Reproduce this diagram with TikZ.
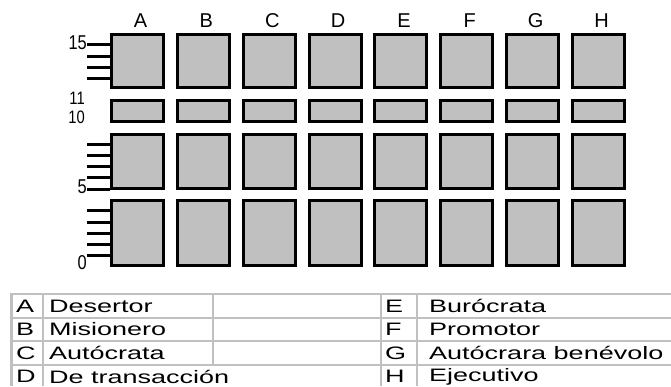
\documentclass[tikz,border=0pt]{standalone}
\usepackage{fontspec}
\setmainfont{Liberation Sans}
\newfontfamily\widefont[FakeStretch=1.5]{Liberation Sans}
\newfontfamily\narrowfont[FakeStretch=0.82]{Liberation Sans}
\definecolor{boxgray}{HTML}{C0C0C0}
\definecolor{linegray}{HTML}{C0C0C0}
\begin{document}
\begin{tikzpicture}[x=1pt,y=-1pt,
  cell/.style={draw=black, line width=3pt, fill=boxgray, inner sep=0pt, minimum width=52pt},
  tick/.style={line width=3pt, black},
  collab/.style={font=\fontsize{20}{20}\selectfont, inner sep=0pt},
  numlab/.style={font=\narrowfont\fontsize{20}{20}\selectfont, inner sep=0pt, anchor=east},
  tline/.style={draw=linegray, line width=2pt},
  ttext/.style={font=\widefont\fontsize{18}{18}\selectfont, inner sep=0pt, anchor=west}
]
\useasboundingbox (0,0) rectangle (671,386);
% boxes
\foreach \c [count=\i from 0] in {A,B,C,D,E,F,G,H}{
  \pgfmathsetmacro{\cx}{137.5+65.86*\i}
  \node[cell, minimum height=53pt] (r1\c) at (\cx,61) {};
  \node[cell, minimum height=21pt] (r2\c) at (\cx,111) {};
  \node[cell, minimum height=54pt] (r3\c) at (\cx,161.5) {};
  \node[cell, minimum height=65pt] (r4\c) at (\cx,233) {};
  \node[collab] (col\c) at (\cx+3,21) {\c};
}
% ticks
\foreach \y/\n in {44/t15,56/t14,67/t13,78/t12,144/t9,155/t8,166/t7,177/t6,189/t5,210/t4,222/t3,233/t2,244/t1,255/t0}{
  \coordinate (\n a) at (87,\y);
  \coordinate (\n b) at (110,\y);
  \draw[tick] (\n a) -- (\n b);
}
\node[numlab] (l15) at (87,43) {15};
\node[numlab, font=\narrowfont\fontsize{18}{18}\selectfont] (l11) at (85,98) {11};
\node[numlab, font=\narrowfont\fontsize{18}{18}\selectfont] (l10) at (85,117) {10};
\node[numlab] (l5) at (87,187) {5};
\node[numlab] (l0) at (87,263) {0};
% table
\foreach \y in {294,317.5,341,364.5}{
  \draw[tline] (11,\y) -- (671,\y);
}
\draw[draw=linegray, line width=3pt] (11.5,293) -- (11.5,386);
\draw[tline] (43,293) -- (43,386);
\draw[tline] (213,293) -- (213,364.5);
\draw[tline] (381,293) -- (381,386);
\draw[tline] (417,293) -- (417,386);
\foreach \k/\t/\y in {A/Desertor/306,B/Misionero/329.5,C/Autócrata/353,D/De transacción/376.5}{
  \node[ttext] (k\k) at (16,\y) {\k};
  \node[ttext] (v\k) at (49,\y) {\t};
}
\foreach \k/\t/\y in {E/Burócrata/306,F/Promotor/329.5,G/Autócrara benévolo/353,H/Ejecutivo/376.5}{
  \node[ttext] (k\k) at (385,\y) {\k};
  \node[ttext] (v\k) at (429,\y) {\t};
}
\end{tikzpicture}
\end{document}
